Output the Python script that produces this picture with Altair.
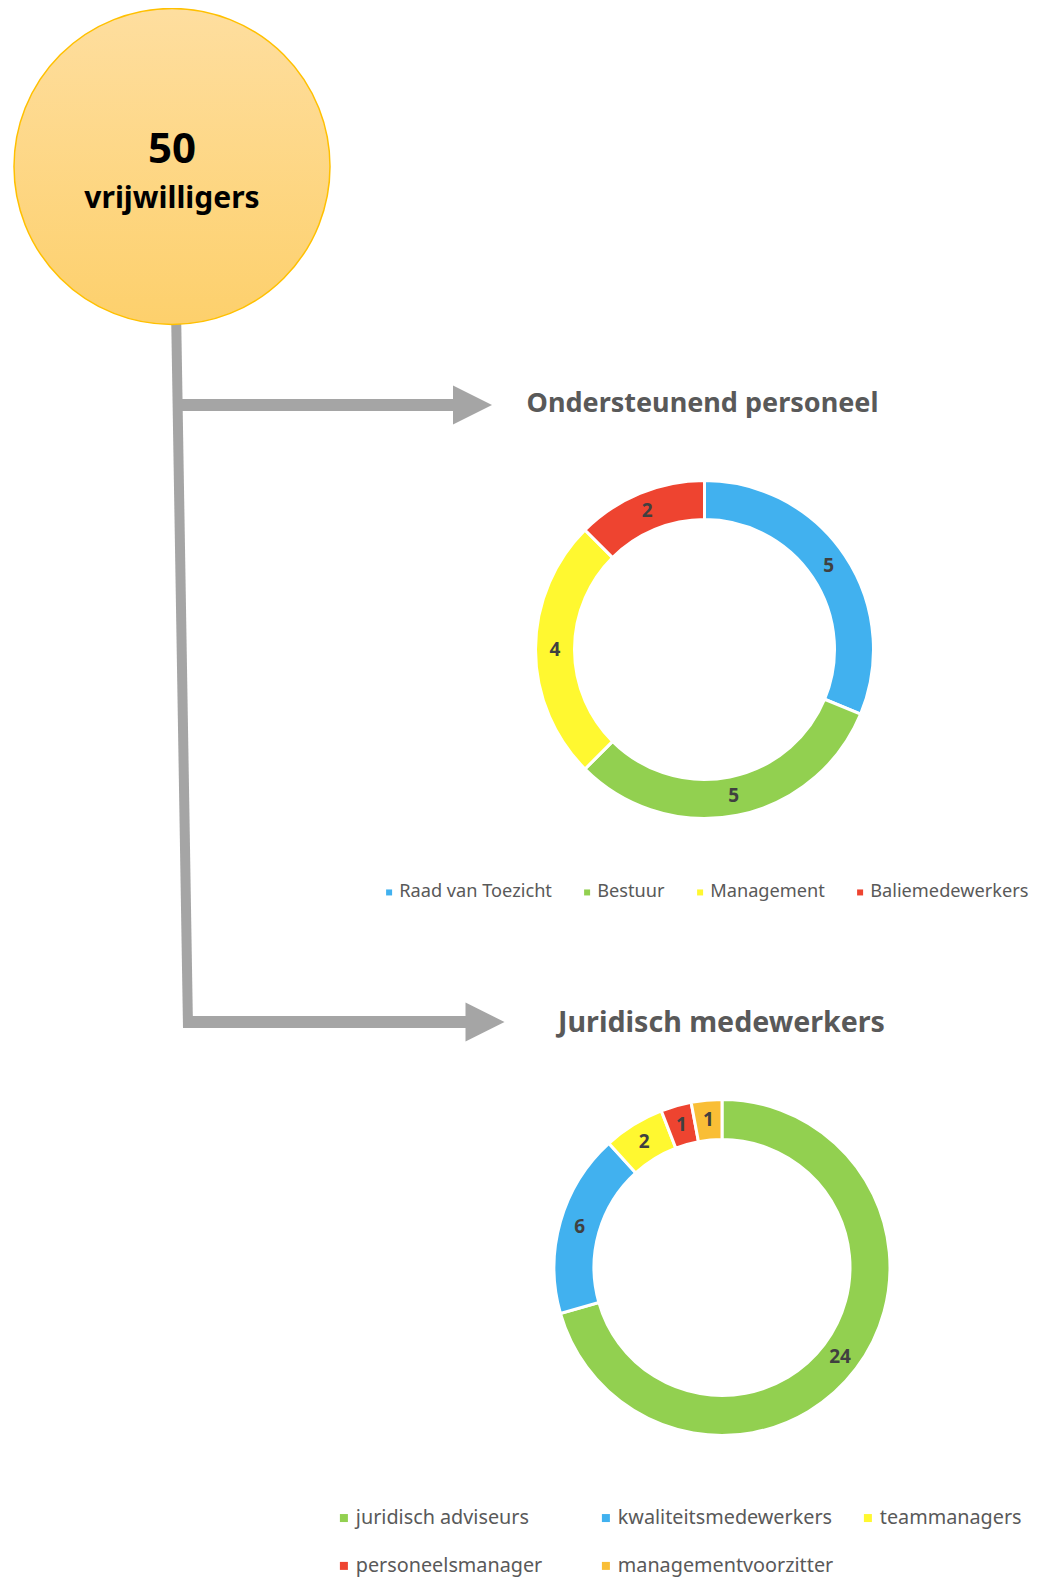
import altair as alt
import pandas as pd

# ---- data ----
cats1 = ["Raad van Toezicht", "Bestuur", "Management", "Baliemedewerkers"]
vals1 = [5, 5, 4, 2]
cols1 = ["#41B1EF", "#92D050", "#FFF830", "#EE4430"]

cats2 = ["juridisch adviseurs", "kwaliteitsmedewerkers", "teammanagers",
         "personeelsmanager", "managementvoorzitter"]
vals2 = [24, 6, 2, 1, 1]
cols2 = ["#92D050", "#41B1EF", "#FFF830", "#EE4430", "#F9BE36"]

total_label = "50"
total_text = "vrijwilligers"
title1 = "Ondersteunend personeel"
title2 = "Juridisch medewerkers"

FONT = "Noto Sans"
GRAY = "#A5A5A5"
TXT = "#595959"

df1 = pd.DataFrame({"cat": cats1, "v": vals1, "i": range(len(cats1))})
df2 = pd.DataFrame({"cat": cats2, "v": vals2, "i": range(len(cats2))})
one = pd.DataFrame({"a": [0]})

def deco():
    return alt.Chart(one)

# ---- connector lines / arrows ----
vline = deco().mark_rule(color=GRAY, strokeWidth=10, strokeCap="butt").encode(
    x=alt.value(168), y=alt.value(300), x2=alt.value(180), y2=alt.value(1020))
h1 = deco().mark_rule(color=GRAY, strokeWidth=12, strokeCap="butt").encode(
    x=alt.value(170), x2=alt.value(450), y=alt.value(397))
h2 = deco().mark_rule(color=GRAY, strokeWidth=12, strokeCap="butt").encode(
    x=alt.value(175), x2=alt.value(462), y=alt.value(1014))
tri = "M -1 -1 L 1 0 L -1 1 Z"
a1 = deco().mark_point(shape=tri, filled=True, color=GRAY, opacity=1, size=1521).encode(
    x=alt.value(464.5), y=alt.value(397))
a2 = deco().mark_point(shape=tri, filled=True, color=GRAY, opacity=1, size=1521).encode(
    x=alt.value(477), y=alt.value(1014))

# ---- big circle ----
grad = alt.Gradient(
    gradient="linear", x1=0, y1=0, x2=0, y2=1,
    stops=[alt.GradientStop(color="#FEDE9F", offset=0),
           alt.GradientStop(color="#FDD06C", offset=1)])
circle = deco().mark_point(shape="circle", filled=True, fill=grad, opacity=1,
                           stroke="#FFC000", strokeWidth=1.5, strokeOpacity=1,
                           size=99856).encode(x=alt.value(164), y=alt.value(158.5))
t50 = deco().mark_text(text=total_label, font=FONT, fontSize=42, fontWeight="bold",
                       color="#000000", baseline="middle").encode(
    x=alt.value(164), y=alt.value(142))
tvr = deco().mark_text(text=total_text, font=FONT, fontSize=30, fontWeight="bold",
                       color="#000000", baseline="middle").encode(
    x=alt.value(164), y=alt.value(191))

# ---- titles ----
tt1 = deco().mark_text(text=title1, font=FONT, fontSize=27, fontWeight="bold",
                       color=TXT, baseline="middle").encode(
    x=alt.value(694.5), y=alt.value(396))
tt2 = deco().mark_text(text=title2, font=FONT, fontSize=28.6, fontWeight="bold",
                       color=TXT, baseline="middle").encode(
    x=alt.value(713.5), y=alt.value(1015))

# ---- donut 1 ----
leg1 = alt.Legend(title=None, orient="none", legendX=372, legendY=875,
                  direction="horizontal", columns=4, gridAlign="each",
                  columnPadding=26, symbolType="square", symbolSize=36,
                  symbolStrokeWidth=0, labelFont=FONT, labelFontSize=18.2,
                  labelColor=TXT, labelOffset=1, labelLimit=400, padding=0)
arc1 = alt.Chart(df1).mark_arc(innerRadius=130, outerRadius=169, stroke="white",
                               strokeWidth=3).encode(
    theta=alt.Theta("v:Q", stack=True),
    order=alt.Order("i:Q"),
    color=alt.Color("cat:N", scale=alt.Scale(domain=cats1, range=cols1),
                    sort=cats1, legend=leg1),
    x=alt.value(696.5), y=alt.value(641.5))
lab1 = alt.Chart(df1).mark_text(radius=149.5, font=FONT, fontSize=19, fontWeight="bold",
                                color="#404040", baseline="middle").encode(
    theta=alt.Theta("v:Q", stack=True),
    order=alt.Order("i:Q"),
    text="v:Q",
    x=alt.value(696.5), y=alt.value(641.5))
donut1 = alt.layer(arc1, lab1)

# ---- donut 2 ----
leg2 = alt.Legend(title=None, orient="none", legendX=326, legendY=1500,
                  direction="horizontal", columns=3, gridAlign="all",
                  columnPadding=24, rowPadding=27, symbolType="square",
                  symbolSize=64, symbolStrokeWidth=0, labelFont=FONT,
                  labelFontSize=19.8, labelColor=TXT, labelOffset=2,
                  labelLimit=400, padding=0)
arc2 = alt.Chart(df2).mark_arc(innerRadius=128, outerRadius=168, stroke="white",
                               strokeWidth=3).encode(
    theta=alt.Theta("v:Q", stack=True),
    order=alt.Order("i:Q"),
    color=alt.Color("cat:N", scale=alt.Scale(domain=cats2, range=cols2),
                    sort=cats2, legend=leg2),
    x=alt.value(714), y=alt.value(1259.5))
lab2 = alt.Chart(df2).mark_text(radius=148, font=FONT, fontSize=19, fontWeight="bold",
                                color="#404040", baseline="middle").encode(
    theta=alt.Theta("v:Q", stack=True),
    order=alt.Order("i:Q"),
    text="v:Q",
    x=alt.value(714), y=alt.value(1259.5))
donut2 = alt.layer(arc2, lab2)

chart = alt.layer(
    vline, h1, h2, a1, a2, circle, t50, tvr, tt1, tt2, donut1, donut2
).resolve_scale(
    theta="independent", color="independent"
).properties(
    width=1023, height=1569, padding=0, autosize="none", background="white"
).configure_view(strokeWidth=0)

chart.save("out.html", embed_options={"renderer": "svg", "actions": False})
